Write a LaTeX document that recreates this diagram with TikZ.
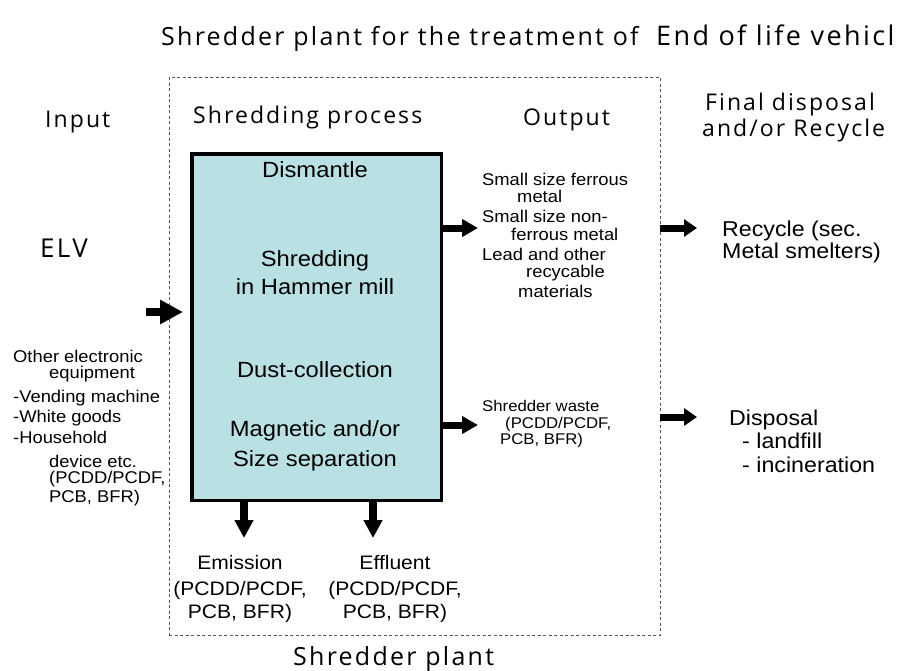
\documentclass[tikz,border=0pt]{standalone}
\usepackage{fontspec}
\setmainfont{Liberation Sans}[FakeStretch=1.08]
\newfontfamily\hfont{Open Sans}[LetterSpace=9]
\usetikzlibrary{arrows.meta}
\definecolor{boxfill}{RGB}{185,224,227}
\definecolor{dashgray}{RGB}{85,85,85}
\begin{document}
\begin{tikzpicture}[x=1pt,y=-1pt,
  txt/.style={anchor=base west, inner sep=0pt},
  ctxt/.style={anchor=base, inner sep=0pt},
  small/.style={font=\fontsize{17}{18}\selectfont},
  swaste/.style={font=\fontsize{15.5}{16}\selectfont},
  boxtxt/.style={ctxt, font=\fontsize{22}{26}\selectfont},
  emtxt/.style={ctxt, font=\fontsize{19.5}{22}\selectfont},
  fintxt/.style={txt, font=\fontsize{21.5}{24}\selectfont},
  hdr/.style={txt, font=\hfont\fontsize{23}{26}\selectfont},
  bighdr/.style={txt, font=\hfont\fontsize{25}{28}\selectfont},
  processbox/.style={draw=black, line width=3.5pt, fill=boxfill, minimum width=249.5pt, minimum height=346.5pt, inner sep=0pt},
  plantbox/.style={draw=dashgray, line width=0.9pt, dash pattern=on 3pt off 2.5pt, minimum width=491pt, minimum height=558pt, inner sep=0pt},
  bigarrow/.style={line width=8pt, -{Triangle[length=23pt,width=23pt]}},
  outarrow/.style={line width=7pt, -{Triangle[length=16pt,width=17pt]}},
  downarrow/.style={line width=8pt, -{Triangle[length=18pt,width=18pt]}},
  finarrow/.style={line width=7pt, -{Triangle[length=13pt,width=17pt]}}
]
\useasboundingbox (0,0) rectangle (904,670);

% frames
\node[plantbox] (plant) at (414.5,356) {};
\node[processbox] (box) at (316.5,327) {};

% headings
\node[bighdr] (title) at (161,45) {Shredder plant for the treatment of\ \ {\fontsize{27}{28}\selectfont End of life vehicl}};
\node[hdr] (hinput) at (45,127) {Input};
\node[txt, font=\hfont\fontsize{26}{30}\selectfont] (elv) at (40,257) {ELV};
\node[hdr] (hproc) at (193,123) {Shredding process};
\node[hdr] (hout) at (523,125) {Output};
\node[hdr] (hfin1) at (705,110) {Final disposal};
\node[hdr] (hfin2) at (702,136) {and/or Recycle};
\node[bighdr] (plantlbl) at (293,665) {Shredder plant};

% process box text
\node[boxtxt] (t1) at (315,177) {Dismantle};
\node[boxtxt] (t2) at (315,266) {Shredding};
\node[boxtxt] (t3) at (315,294) {in Hammer mill};
\node[boxtxt] (t4) at (315,377) {Dust-collection};
\node[boxtxt] (t5) at (315,436) {Magnetic and/or};
\node[boxtxt] (t6) at (315,466) {Size separation};

% left input list
\node[txt, small] (l1) at (13,362) {Other electronic};
\node[txt, small] (l2) at (49,378) {equipment};
\node[txt, small] (l3) at (13,402) {-Vending machine};
\node[txt, small] (l4) at (13,422) {-White goods};
\node[txt, small] (l5) at (13,443) {-Household};
\node[txt, small] (l6) at (49,467) {device etc.};
\node[txt, small] (l7) at (49,483) {(PCDD/PCDF,};
\node[txt, small] (l8) at (49,502) {PCB, BFR)};

% output list
\node[txt, small] (o1) at (482,185) {Small size ferrous};
\node[txt, small] (o2) at (517,202) {metal};
\node[txt, small] (o3) at (482,222) {Small size non-};
\node[txt, small] (o4) at (511,240) {ferrous metal};
\node[txt, small] (o5) at (482,260) {Lead and other};
\node[txt, small] (o6) at (526,277) {recycable};
\node[txt, small] (o7) at (518,297) {materials};

% shredder waste
\node[txt, swaste] (w1) at (482,411) {Shredder waste};
\node[txt, swaste] (w2) at (505,428) {(PCDD/PCDF,};
\node[txt, swaste] (w3) at (500,444) {PCB, BFR)};

% emission / effluent
\node[emtxt] (e1) at (240,569) {Emission};
\node[emtxt] (e2) at (240,595) {(PCDD/PCDF,};
\node[emtxt] (e3) at (240,618) {PCB, BFR)};
\node[emtxt] (f1) at (395,569) {Effluent};
\node[emtxt] (f2) at (395,595) {(PCDD/PCDF,};
\node[emtxt] (f3) at (395,618) {PCB, BFR)};

% final destinations
\node[fintxt] (r1) at (722,236) {Recycle (sec.};
\node[fintxt] (r2) at (722,258) {Metal smelters)};
\node[fintxt] (d1) at (729,425) {Disposal};
\node[fintxt] (d2) at (742,448) {- landfill};
\node[fintxt] (d3) at (742,472) {- incineration};

% arrows
\coordinate (inStart) at (146,312);
\draw[bigarrow] (inStart) -- ([xshift=-7pt]inStart -| box.west);

\coordinate (outTip1) at (478,228);
\coordinate (outTip2) at (478,425);
\draw[outarrow] (outTip1 -| box.east) -- (outTip1);
\draw[outarrow] (outTip2 -| box.east) -- (outTip2);

\coordinate (downTip1) at (244,538);
\coordinate (downTip2) at (373,538);
\draw[downarrow] (downTip1 |- box.south) -- (downTip1);
\draw[downarrow] (downTip2 |- box.south) -- (downTip2);

\coordinate (finTip1) at (697,228);
\coordinate (finTip2) at (697,417);
\draw[finarrow] (finTip1 -| plant.east) -- (finTip1);
\draw[finarrow] (finTip2 -| plant.east) -- (finTip2);
\end{tikzpicture}
\end{document}
